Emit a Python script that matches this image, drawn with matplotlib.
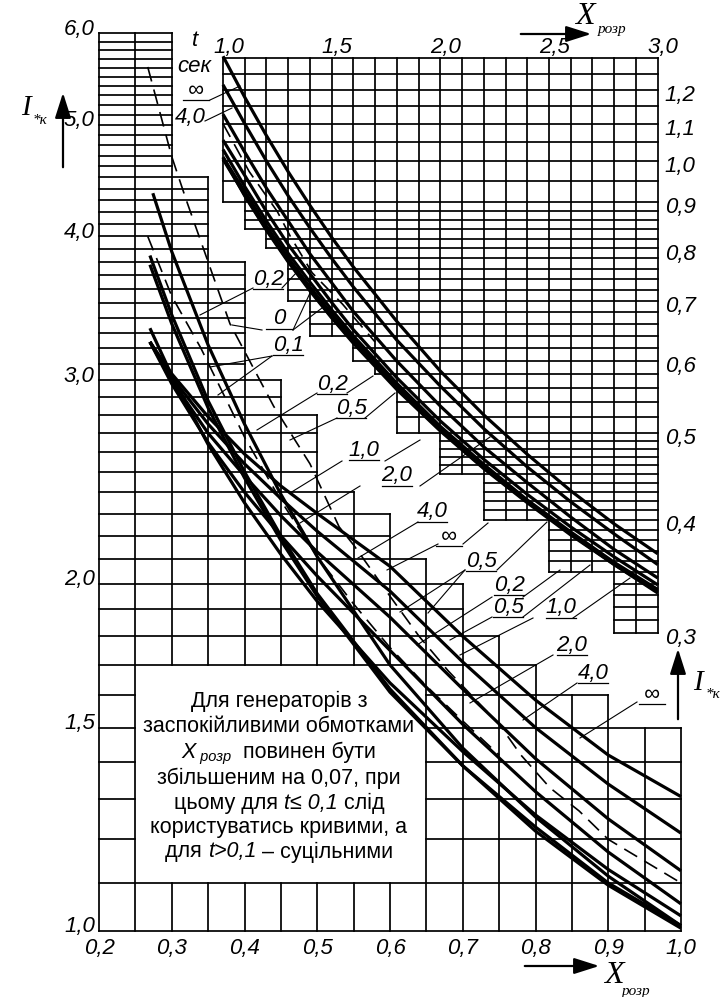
import matplotlib.pyplot as plt
import numpy as np

W, H = 727, 997

# ---- lower chart: X 0.2..1.0, I 1.0..6.0 (log) ----
low_col_left = [0.20, 0.25, 0.30, 0.35, 0.40, 0.45, 0.50, 0.55,
                0.60, 0.65, 0.70, 0.75, 0.80, 0.85, 0.90, 0.95]
low_col_top = [6.0, 6.0, 4.5, 3.8, 3.0, 2.8, 2.4, 2.3,
               2.1, 2.0, 1.8, 1.7, 1.6, 1.6, 1.5, 1.5]
low_levels = [round(1.0 + 0.1 * i, 1) for i in range(51)]
note_box = (0.25, 0.65, 1.1, 1.7)

# ---- upper chart: X 1.0..3.0, I 0.3..1.3 (log) ----
up_col_left = [round(1.0 + 0.1 * i, 1) for i in range(20)]
up_col_bottom = [0.90, 0.84, 0.80, 0.70, 0.64, 0.64, 0.60, 0.58, 0.50, 0.50,
                 0.45, 0.45, 0.40, 0.40, 0.40, 0.35, 0.35, 0.35, 0.30, 0.30]
up_levels = ([1.3, 1.25, 1.2, 1.15, 1.1, 1.05, 1.0, 0.95]
             + [round(0.9 - 0.02 * i, 2) for i in range(20)]
             + [round(0.5 - 0.01 * i, 2) for i in range(21)])

# ---- curves, t = const (X_calc -> I*) ----
X_LO = [0.27, 0.30, 0.35, 0.40, 0.45, 0.50, 0.60, 0.70, 0.80, 0.90, 1.00]
X_UP = [1.00, 1.10, 1.20, 1.30, 1.40, 1.50, 1.60, 1.80, 2.00, 2.20, 2.40, 2.60, 2.80, 3.00]

curves = {
    "inf": (X_LO + X_UP[1:],
            [3.24, 3.04, 2.79, 2.59, 2.43, 2.30, 2.07, 1.80, 1.585, 1.42, 1.307,
             1.177, 1.067, 0.973, 0.893, 0.823, 0.763, 0.664, 0.585, 0.523, 0.473, 0.431, 0.396, 0.367]),
    "4.0": (X_LO + X_UP[1:],
            [3.24, 3.02, 2.75, 2.54, 2.37, 2.22, 1.97, 1.71, 1.50, 1.34, 1.215,
             1.10, 1.00, 0.915, 0.843, 0.78, 0.725, 0.633, 0.563, 0.505, 0.458, 0.419, 0.386, 0.357]),
    "2.0": (X_LO + X_UP[1:],
            [3.24, 3.00, 2.70, 2.48, 2.29, 2.13, 1.87, 1.62, 1.41, 1.25, 1.127,
             1.023, 0.933, 0.858, 0.789, 0.733, 0.681, 0.60, 0.535, 0.482, 0.44, 0.403, 0.371, 0.345]),
    "1.0": (X_LO + X_UP[1:],
            [3.24, 2.98, 2.65, 2.40, 2.20, 2.03, 1.75, 1.51, 1.32, 1.17, 1.055,
             0.964, 0.879, 0.808, 0.75, 0.697, 0.65, 0.575, 0.515, 0.467, 0.427, 0.393, 0.364, 0.339]),
    "0.5": (X_LO + X_UP[1:],
            [3.33, 3.03, 2.64, 2.35, 2.12, 1.93, 1.64, 1.43, 1.26, 1.13, 1.03,
             0.937, 0.858, 0.79, 0.734, 0.684, 0.64, 0.567, 0.508, 0.461, 0.421, 0.388, 0.359, 0.335]),
    "0.2": (X_LO + X_UP[1:],
            [3.78, 3.36, 2.84, 2.47, 2.18, 1.95, 1.61, 1.39, 1.23, 1.10, 1.01,
             0.925, 0.847, 0.781, 0.725, 0.677, 0.635, 0.563, 0.505, 0.459, 0.42, 0.387, 0.358, 0.334]),
    "0.1": (X_LO + X_UP[1:],
            [3.85, 3.42, 2.88, 2.50, 2.20, 1.96, 1.62, 1.39, 1.22, 1.095, 1.005,
             0.917, 0.84, 0.775, 0.72, 0.672, 0.63, 0.56, 0.503, 0.457, 0.419, 0.386, 0.357, 0.333]),
    "0": ([0.274] + X_LO[1:] + X_UP[1:],
          [4.36, 3.88, 3.22, 2.75, 2.39, 2.11, 1.70, 1.44, 1.255, 1.115, 1.01,
           0.915, 0.838, 0.773, 0.718, 0.670, 0.628, 0.558, 0.502, 0.456, 0.418, 0.385, 0.357, 0.332]),
}
dashed = {
    "0": ([0.267, 0.30, 0.32, 0.38, 0.44, 0.49, 0.53, 0.55, 0.60, 0.64, 0.68, 0.75,
           0.78, 0.82, 0.86, 0.90, 1.00, 1.12, 1.25, 1.31, 1.41, 1.55, 1.70],
          [5.61, 4.69, 4.30, 3.36, 2.85, 2.54, 2.24, 2.16, 1.95, 1.80, 1.68, 1.51,
           1.42, 1.33, 1.27, 1.20, 1.10, 0.974, 0.879, 0.825, 0.752, 0.694, 0.63]),
    "0.1": ([0.267, 0.30, 0.34, 0.40, 0.45, 0.50, 0.55, 0.60, 0.65, 0.70, 0.75],
            [4.00, 3.55, 3.20, 2.68, 2.36, 2.11, 1.92, 1.76, 1.63, 1.52, 1.42]),
}

# tick labels
low_xticks = [0.2, 0.3, 0.4, 0.5, 0.6, 0.7, 0.8, 0.9, 1.0]
low_yticks = [1.0, 1.5, 2.0, 3.0, 4.0, 5.0, 6.0]
up_xticks = [1.0, 1.5, 2.0, 2.5, 3.0]
up_yticks = [0.3, 0.4, 0.5, 0.6, 0.7, 0.8, 0.9, 1.0, 1.1, 1.2]

GRID_LW = 1.25
CURVE_LW = 2.3
TICK_FONT = dict(family="Liberation Sans", style="italic", fontsize=16)
SERIF_IT = dict(family="Liberation Serif", style="italic")


def fmt(v):
    return f"{v:.1f}".replace(".", ",")


def px(x, y):
    # pixel position (from top-left) -> figure fraction
    return x / W, 1 - y / H


def runs(flags):
    out, start = [], None
    for i, f in enumerate(flags + [False]):
        if f and start is None:
            start = i
        elif not f and start is not None:
            out.append((start, i))
            start = None
    return out


fig = plt.figure(figsize=(W / 100, H / 100), dpi=100)

ax_lo = fig.add_axes([99 / W, 1 - 930.7 / H, 582 / W, 897.4 / H])
ax_lo.set_yscale("log")
ax_lo.set_xlim(0.2, 1.0)
ax_lo.set_ylim(1.0, 6.0)

ax_up = fig.add_axes([223 / W, 1 - 632.7 / H, 434.7 / W, 574.4 / H])
ax_up.set_yscale("log")
ax_up.set_xlim(1.0, 3.0)
ax_up.set_ylim(0.3, 1.3)

for ax in (ax_lo, ax_up):
    ax.set_axis_off()

line_kw = dict(color="black", lw=GRID_LW, clip_on=False, solid_capstyle="projecting")

# lower grid: horizontal lines
n_lo = len(low_col_left)
for lev in low_levels:
    flags = []
    for i, x0 in enumerate(low_col_left):
        ok = low_col_top[i] >= lev - 1e-6
        in_box = (note_box[0] - 1e-6 <= x0 < note_box[1] - 1e-6
                  and note_box[2] + 1e-6 < lev < note_box[3] - 1e-6)
        flags.append(ok and not in_box)
    for a, b in runs(flags):
        x_end = low_col_left[b] if b < n_lo else 1.0
        ax_lo.plot([low_col_left[a], x_end], [lev, lev], **line_kw)

# lower grid: vertical lines
for j in range(n_lo + 1):
    x = low_col_left[j] if j < n_lo else 1.0
    tops = []
    if j > 0:
        tops.append(low_col_top[j - 1])
    if j < n_lo:
        tops.append(low_col_top[j])
    top = max(tops)
    if note_box[0] + 1e-6 < x < note_box[1] - 1e-6:
        ax_lo.plot([x, x], [1.0, note_box[2]], **line_kw)
        ax_lo.plot([x, x], [note_box[3], top], **line_kw)
    else:
        ax_lo.plot([x, x], [1.0, top], **line_kw)

# upper grid: horizontal lines
n_up = len(up_col_left)
for lev in up_levels:
    flags = [up_col_bottom[i] <= lev + 1e-6 for i in range(n_up)]
    for a, b in runs(flags):
        x_end = up_col_left[b] if b < n_up else 3.0
        ax_up.plot([up_col_left[a], x_end], [lev, lev], **line_kw)

# upper grid: vertical lines
for j in range(n_up + 1):
    x = up_col_left[j] if j < n_up else 3.0
    bots = []
    if j > 0:
        bots.append(up_col_bottom[j - 1])
    if j < n_up:
        bots.append(up_col_bottom[j])
    ax_up.plot([x, x], [min(bots), 1.3], **line_kw)


# curves: the part with X <= 1 goes on the lower chart, the rest on the upper one
def draw_curve(xs, ys, **kw):
    xs = np.asarray(xs)
    ys = np.asarray(ys)
    lo = xs <= 1.0 + 1e-9
    hi = xs >= 1.0 - 1e-9
    if lo.sum() > 1:
        ax_lo.plot(xs[lo], ys[lo], clip_on=False, **kw)
    if hi.sum() > 1:
        ax_up.plot(xs[hi], ys[hi], clip_on=False, **kw)


for name, (xs, ys) in curves.items():
    draw_curve(xs, ys, color="black", lw=CURVE_LW, solid_capstyle="butt")
for name, (xs, ys) in dashed.items():
    draw_curve(xs, ys, color="black", lw=1.2, dashes=(9, 5))

# tick labels
for v in low_xticks:
    ax_lo.annotate(fmt(v), (v, 0), xycoords=("data", "axes fraction"),
                   xytext=(0, -13), textcoords="offset points",
                   ha="center", va="center", **TICK_FONT)
for v in low_yticks:
    ax_lo.annotate(fmt(v), (0, v), xycoords=("axes fraction", "data"),
                   xytext=(-3, 3), textcoords="offset points",
                   ha="right", va="center", **TICK_FONT)
for v in up_xticks:
    ax_up.annotate(fmt(v), (v, 1), xycoords=("data", "axes fraction"),
                   xytext=(4, 8), textcoords="offset points",
                   ha="center", va="center", **TICK_FONT)
for v in up_yticks:
    ax_up.annotate(fmt(v), (1, v), xycoords=("axes fraction", "data"),
                   xytext=(5, -4), textcoords="offset points",
                   ha="left", va="center", **TICK_FONT)

# axis titles with arrows
Arrow = plt.matplotlib.patches.FancyArrowPatch
arrow_kw = dict(arrowstyle="-|>,head_length=1.1,head_width=0.35", color="black", lw=1.6,
                transform=fig.transFigure, mutation_scale=14)
fig.add_artist(Arrow(px(63, 170), px(63, 90), **arrow_kw))
fig.text(*px(26, 108), "I", fontsize=21, ha="center", va="center", **SERIF_IT)
fig.text(*px(33, 120), "*к", fontsize=11, ha="left", va="center", **SERIF_IT)

fig.add_artist(Arrow(px(678, 722), px(678, 646), **arrow_kw))
fig.text(*px(698, 683), "I", fontsize=21, ha="center", va="center", **SERIF_IT)
fig.text(*px(706, 694), "*к", fontsize=11, ha="left", va="center", **SERIF_IT)

fig.add_artist(Arrow(px(518, 34), px(594, 34), **arrow_kw))
fig.text(*px(585, 16), "X", fontsize=23, ha="center", va="center", **SERIF_IT)
fig.text(*px(598, 29), "розр", fontsize=11, ha="left", va="center", **SERIF_IT)

fig.add_artist(Arrow(px(522, 966), px(602, 966), **arrow_kw))
fig.text(*px(614, 975), "X", fontsize=23, ha="center", va="center", **SERIF_IT)
fig.text(*px(636, 991), "розр", fontsize=11, ha="center", va="center", **SERIF_IT)

fig.text(*px(195, 40), "t", ha="center", va="center", **TICK_FONT)
fig.text(*px(194, 66), "сек", ha="center", va="center", **TICK_FONT)

# curve labels: (text, x, y, underline?, leader lines)
labels = [
    ("∞", 196, 90, True, [((210, 100), (240, 86))]),
    ("4,0", 190, 117, False, [((205, 121), (232, 108))]),
    ("0,2", 268, 279, True, [((253, 288), (200, 315)), ((282, 288), (297, 272))]),
    ("0", 279, 319, True, [((262, 330), (232, 325)), ((293, 330), (310, 293)),
                           ((293, 330), (322, 308))]),
    ("0,1", 288, 345, True, [((272, 356), (210, 367)), ((272, 356), (218, 395))]),
    ("0,2", 332, 384, True, [((317, 393), (257, 430)), ((347, 393), (373, 376))]),
    ("0,5", 351, 408, True, [((337, 418), (290, 440)), ((365, 418), (395, 393))]),
    ("1,0", 364, 450, True, [((342, 461), (290, 493)), ((385, 461), (420, 440))]),
    ("2,0", 397, 476, True, [((360, 486), (300, 523)), ((420, 486), (490, 437))]),
    ("4,0", 432, 512, True, [((418, 522), (358, 558))]),
    ("∞", 449, 536, True, [((438, 544), (387, 570)), ((463, 544), (488, 523))]),
    ("0,5", 481, 561, True, [((465, 570), (400, 612)), ((465, 570), (428, 613)),
                             ((497, 570), (547, 522))]),
    ("0,2", 509, 585, True, [((492, 597), (417, 645)), ((523, 597), (560, 570))]),
    ("0,5", 508, 607, True, [((492, 617), (450, 640)), ((523, 617), (590, 565))]),
    ("1,0", 561, 608, True, [((533, 618), (460, 655)), ((573, 618), (630, 578))]),
    ("2,0", 572, 645, True, [((553, 655), (470, 703))]),
    ("4,0", 593, 673, True, [((577, 683), (523, 720))]),
    ("∞", 652, 694, True, [((637, 702), (580, 738))]),
]
for text, x, y, under, leaders in labels:
    fig.text(*px(x, y), text, ha="center", va="center", **TICK_FONT)
    if under:
        half = 15 if len(text) > 1 else 13
        fig.add_artist(plt.Line2D([px(x - half, 0)[0], px(x + half, 0)[0]],
                                  [px(0, y + 10)[1]] * 2, color="black", lw=0.9,
                                  transform=fig.transFigure))
    for (x0, y0), (x1, y1) in leaders:
        fig.add_artist(plt.Line2D([px(x0, 0)[0], px(x1, 0)[0]], [px(0, y0)[1], px(0, y1)[1]],
                                  color="black", lw=0.8, transform=fig.transFigure))

# note inside the blank part of the lower grid
renderer = fig.canvas.get_renderer()
BODY = dict(family="Liberation Sans", fontsize=15.5)
note_lines = [
    [("Для генераторів з", {})],
    [("заспокійливими обмотками", {})],
    [("X", {"style": "italic"}), (" розр", {"style": "italic", "fontsize": 10.5, "dy": -5}),
     ("  повинен бути", {})],
    [("збільшеним на 0,07, при", {})],
    [("цьому для ", {}), ("t≤ 0,1", {"style": "italic"}), (" слід", {})],
    [("користуватись кривими, а", {})],
    [("для ", {}), ("t>0,1", {"style": "italic"}), (" – суцільними", {})],
]
note_y = [701, 727, 752, 778, 803, 828, 852]
cx = 279
for parts, y in zip(note_lines, note_y):
    widths = []
    for txt, st in parts:
        kw = dict(BODY)
        kw.update({k: v for k, v in st.items() if k != "dy"})
        t = fig.text(0, 0, txt, **kw)
        widths.append(t.get_window_extent(renderer).width)
        t.remove()
    x = cx - sum(widths) / 2
    for (txt, st), w in zip(parts, widths):
        kw = dict(BODY)
        kw.update({k: v for k, v in st.items() if k != "dy"})
        fig.text(*px(x, y - st.get("dy", 0)), txt, ha="left", va="center", **kw)
        x += w

fig.savefig("out.png", dpi=100)
